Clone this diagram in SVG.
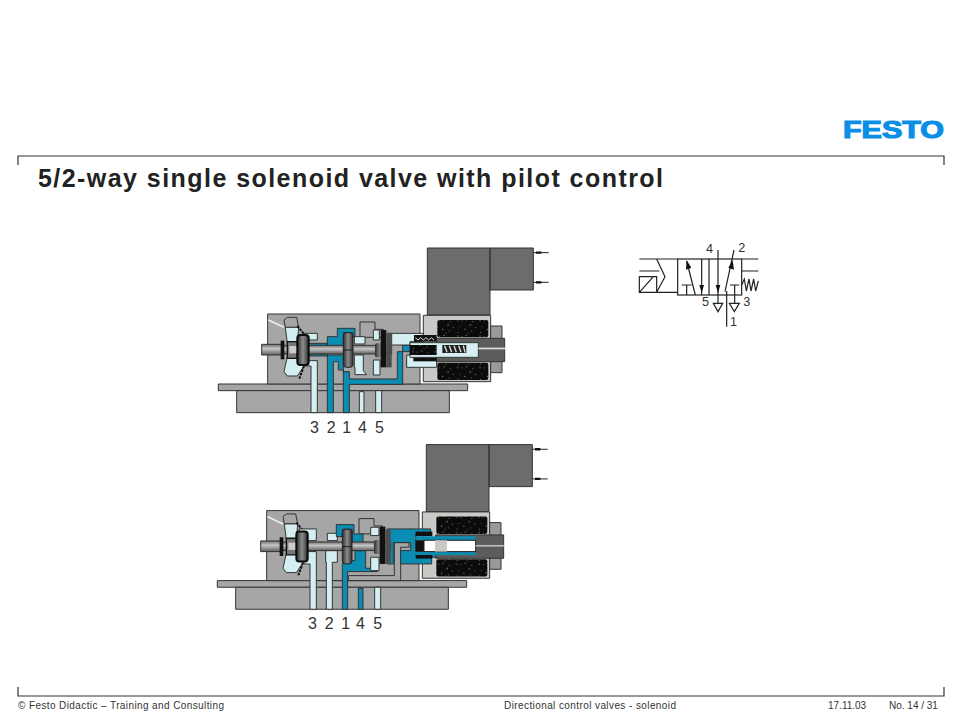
<svg xmlns="http://www.w3.org/2000/svg" width="960" height="720" viewBox="0 0 960 720">
<style>
.t{font-family:"Liberation Sans",Arial,sans-serif;fill:#222}
.f{font-size:10px;fill:#333}
.n{font-size:48px;fill:#333}
.o{stroke:#333;stroke-width:3;stroke-linejoin:round}
.g{fill:#a6a6a6}.dg{fill:#5c5c5c}.l{fill:#d5eef2}.b{fill:#0a8db3}.lg{fill:#c9cac6}.k{fill:#111}
.sym{fill:none;stroke:#222;stroke-width:3.6}
.d{font-size:38px;fill:#333}
</style>
<defs>
<pattern id="dots" width="67" height="47" patternUnits="userSpaceOnUse">
<rect width="67" height="47" fill="#0b0b0b"/>
<g fill="#d8d8d8">
<circle cx="6" cy="6" r="1.6"/><circle cx="19" cy="8" r="1.3"/><circle cx="32" cy="4" r="1.5"/><circle cx="52" cy="10" r="1.4"/>
<circle cx="44" cy="20" r="1.7"/><circle cx="12" cy="26" r="1.3"/><circle cx="60" cy="27" r="1.3"/><circle cx="28" cy="33" r="1.6"/>
<circle cx="48" cy="38" r="1.3"/><circle cx="8" cy="42" r="1.4"/><circle cx="38" cy="44" r="1.2"/>
</g>
</pattern>
<linearGradient id="sh" x1="0" y1="0" x2="0" y2="1"><stop offset="0" stop-color="#6e6e6e"/><stop offset=".4" stop-color="#c6c6c6"/><stop offset="1" stop-color="#5f5f5f"/></linearGradient>
<linearGradient id="pi" x1="0" y1="0" x2="1" y2="0"><stop offset="0" stop-color="#2f2f2f"/><stop offset=".5" stop-color="#8d8d8d"/><stop offset="1" stop-color="#2f2f2f"/></linearGradient>
<g id="housing">
<path class="o" style="fill:#6c6c6c" d="M652 24H840V225H652ZM840 24H970V150H840Z"/>
<path d="M970 38H1016M970 127H1016" stroke="#222" stroke-width="3"/>
<path d="M978 38H994M978 127H994" stroke="#111" stroke-width="7"/>
<rect class="lg o" x="640" y="226" width="202" height="199"/>
<path class="o" style="fill:#9a9a9a" d="M842 258H876V398H842Z"/>
<rect x="682" y="240" width="153" height="52" rx="6" fill="url(#dots)"/>
<rect x="682" y="368" width="153" height="52" rx="6" fill="url(#dots)"/>
<rect class="g o" x="25" y="432" width="748" height="20"/>
<rect class="g o" x="80" y="452" width="638" height="66"/>
<rect class="g o" x="173" y="222" width="457" height="210"/>
<path d="M175 240L222 262" stroke="#eee" stroke-width="5"/>
<path class="o g" d="M450 292V246H495V268H520V292Z"/>
<path class="o g" d="M222 240L232 232H260L266 262H226Z"/>
<path class="l o" d="M226 262H266L262 310H232ZM232 350H264L282 378L262 408H232L222 395Z"/>
<path d="M262 258L282 282M282 378L268 416" stroke="#111" stroke-width="6" stroke-dasharray="8 3"/>
</g>
<g id="spool">
<rect class="o" x="155" y="313" width="60" height="32" fill="url(#sh)"/>
<rect class="o" x="215" y="316" width="330" height="26" fill="url(#sh)"/>
<rect class="k" x="212" y="302" width="11" height="56"/>
<path d="M232 305H262V355H232Z" fill="#777" stroke="#111" stroke-width="4"/>
<rect x="238" y="318" width="30" height="22" fill="#ccc"/>
<rect x="262" y="285" width="34" height="90" rx="9" fill="url(#pi)" stroke="#0b0b0b" stroke-width="6"/>
<rect x="400" y="278" width="29" height="104" rx="9" fill="url(#pi)" stroke="#222" stroke-width="3"/>
<path d="M400 330H429" stroke="#222" stroke-width="3"/>
<rect x="495" y="310" width="30" height="42" rx="5" fill="url(#pi)"/>
<rect class="k" x="512" y="270" width="17" height="112"/>
<rect x="529" y="278" width="16" height="104" fill="#4d4d4d"/>
</g>
</defs>

<path d="M18 165V156H944V165M18 687V696H944V687" fill="none" stroke="#333" stroke-width="1.2"/>
<text class="t" x="843" y="138" font-size="24" font-weight="700" style="fill:#0b8fe6;stroke:#0b8fe6;stroke-width:1.2" textLength="101" lengthAdjust="spacingAndGlyphs">FESTO</text>
<text class="t" x="38" y="187" font-size="25" font-weight="700" textLength="625">5/2-way single solenoid valve with pilot control</text>
<text class="t f" x="18" y="709" textLength="206">© Festo Didactic – Training and Consulting</text>
<text class="t f" x="504" y="709" textLength="172">Directional control valves - solenoid</text>
<text class="t f" x="828" y="709">17.11.03</text>
<text class="t f" x="889" y="709">No. 14 / 31</text>

<g id="valve-top" transform="translate(210 240) scale(.33333)">
<use href="#housing"/>
<path class="l o" d="M282 280H322V300H296V290H282Z"/>
<path class="l o" d="M303 518V378H285V362H322V518Z"/>
<path class="b o" d="M352 518H370V365H385V390H400V518H418V433H578V315H600V335H562V417H418V395H400V345H352Z"/>
<path class="b o" d="M352 290H382V265H435V290H429V278H400V340H352ZM296 310H352V316H296ZM296 342H352V348H296Z"/>
<path class="l o" d="M433 290H465V312H433ZM433 345H460V392L470 404H435V382H433ZM490 270H508V300H490ZM490 360H510V405H490Z"/>
<path class="l o" d="M448 518V455H462V518ZM497 518V452H515V518Z"/>
<path class="l o" d="M545 280H640V305H600V315H545Z"/>
<path class="l o" d="M590 345H680V382H590Z"/>
<use href="#spool"/>
<rect x="680" y="295" width="204" height="70" class="dg o"/>
<rect class="k" x="612" y="285" width="68" height="20"/><path d="M616 293l8 7 8-7 8 7 8-7 8 7 8-7 8 7" stroke="#ddd" stroke-width="3" fill="none"/>
<rect x="610" y="352" width="70" height="12" fill="#111"/>
<rect class="l o" x="600" y="308" width="205" height="44"/>
<rect x="600" y="315" width="80" height="30" fill="url(#dots)"/>
<rect x="697" y="315" width="72" height="24" fill="#222"/><path d="M704 317l7 20M718 317l7 20M732 317l7 20M746 317l7 20M760 317l5 20" stroke="#ddd" stroke-width="4"/>
<rect x="805" y="323" width="80" height="5" fill="#ddd"/>
<text class="t n" y="580"><tspan x="300">3</tspan><tspan x="350">2</tspan><tspan x="397">1</tspan><tspan x="444">4</tspan><tspan x="495">5</tspan></text>
</g>

<g id="valve-bottom" transform="translate(209 436.6) scale(.33333)">
<use href="#housing"/>
<path class="l o" d="M270 277H322V312H296V292H270Z"/>
<path class="l o" d="M303 518V382H285V345H322V518Z"/>
<path class="l o" d="M352 518V377H350V342H385V377H370V518Z"/>
<path class="l o" d="M355 290H385V312H355Z"/>
<path class="b o" d="M400 518H416V405H505V395H470V342H438V372H425V380H400Z"/>
<path class="b o" d="M382 264H435V292H462V342H430V278H400V300H382Z"/>
<path class="l o" d="M485 272H510V297H485ZM485 362H510V402H485Z"/>
<path class="b o" d="M448 518V455H462V518Z"/>
<path class="l o" d="M497 518V452H515V518Z"/>
<path class="g o" d="M418 417H556V318H600V332H575V432H418Z"/>
<path class="b o" d="M535 277H665V292H620V345H640V350H800V362H668V382H575V342H605V318H553V382H535Z"/>
<use href="#spool"/>
<rect x="680" y="295" width="204" height="70" class="dg o"/>
<rect class="k" x="620" y="285" width="50" height="14"/>
<rect class="k" x="620" y="352" width="50" height="14"/>
<rect class="b" x="620" y="299" width="180" height="12"/>
<rect class="b" x="620" y="345" width="180" height="10"/>
<rect class="k" x="620" y="311" width="25" height="34"/>
<rect x="645" y="311" width="155" height="34" fill="#fff" stroke="#222" stroke-width="3"/>
<rect x="678" y="311" width="36" height="34" class="lg"/>
<rect x="800" y="325" width="85" height="5" fill="#bbb"/>
<text class="t n" y="578"><tspan x="297">3</tspan><tspan x="347">2</tspan><tspan x="397">1</tspan><tspan x="441">4</tspan><tspan x="493">5</tspan></text>
</g>

<g id="symbol" transform="translate(630 235) scale(.33333)">
<rect class="sym" x="143" y="72" width="192" height="108"/>
<path class="sym" d="M237 72V180M28 72H143M28 108H88M28 125H80V172H28ZM28 172L70 125M80 172H143M80 72L105 125L80 172M335 72H385M335 108H385"/>
<path class="sym" d="M335 150l8-18 6 36 8-36 6 36 8-36 6 36 8-30"/>
<path class="sym" d="M170 78L196 180M155 150H185M170 150V180M215 72V180M264 45V205M312 45L285 170M290 168V275M300 150H328M314 150V205"/>
<path class="sym" d="M250 205H278L264 230ZM298 205H328L313 230Z"/>
<path d="M170 76L184 98L168 104ZM208 150H222L215 174ZM257 150H271L264 174ZM308 76L312 104L295 98Z" fill="#111"/>
<text class="t d" x="228" y="55">4</text>
<text class="t d" x="325" y="52">2</text>
<text class="t d" x="216" y="213">5</text>
<text class="t d" x="340" y="213">3</text>
<text class="t d" x="300" y="274">1</text>
</g>
</svg>
